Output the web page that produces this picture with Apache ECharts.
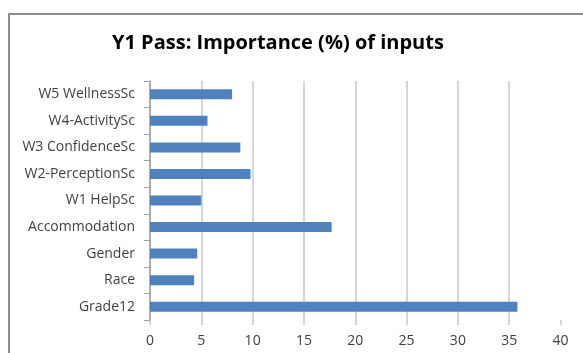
<!DOCTYPE html>
<html>
<head>
<meta charset="utf-8">
<script src="https://cdn.jsdelivr.net/npm/echarts@6/dist/echarts.min.js"></script>
<style>html,body{margin:0;padding:0;background:#fff}#c{width:583px;height:353px}</style>
</head>
<body>
<div id="c"></div>
<script>
const categories = ["W5 WellnessSc", "W4-ActivitySc", "W3 ConfidenceSc", "W2-PerceptionSc", "W1 HelpSc", "Accommodation", "Gender", "Race", "Grade12"];
const importance = [8.0, 5.6, 8.8, 9.8, 5.0, 17.7, 4.6, 4.3, 35.8];
const xTicks = [0, 5, 10, 15, 20, 25, 30, 35, 40];
const titleText = "Y1 Pass: Importance (%) of inputs";

const chart = echarts.init(document.getElementById('c'), null, {renderer: 'canvas'});
chart.setOption({
  animation: false,
  backgroundColor: '#ffffff',
  title: {
    text: titleText,
    left: 107, top: 28,
    textStyle: {fontFamily: 'Open Sans', fontWeight: 'bold', fontSize: 20, color: '#000'}
  },
  graphic: [{
    type: 'rect', shape: {x: 9, y: 14, width: 620, height: 400},
    style: {fill: null, stroke: '#8c8c8c', lineWidth: 2}, silent: true
  }],
  grid: {left: 150, right: 22.5, top: 81, bottom: 33, containLabel: false},
  xAxis: {
    type: 'value', min: xTicks[0], max: xTicks[xTicks.length - 1], interval: 5,
    axisLine: {show: false},
    axisTick: {show: true, length: 5, lineStyle: {color: '#c8c8c8', width: 1.5}},
    axisLabel: {margin: 14, fontFamily: 'Open Sans', fontSize: 14, color: '#404040'},
    splitLine: {show: true, showMaxLine: false, lineStyle: {color: '#c8c8c8', width: 1.5}}
  },
  yAxis: {
    type: 'category', data: categories, inverse: true,
    axisLine: {show: true, lineStyle: {color: '#a0a0a0', width: 1.5}},
    axisTick: {show: true, length: 6, lineStyle: {color: '#a0a0a0'}},
    axisLabel: {margin: 15, fontFamily: 'Open Sans', fontSize: 14, color: '#404040'}
  },
  series: [{
    type: 'bar', data: importance, barWidth: 10,
    itemStyle: {color: '#4f81bd'}
  }]
});
</script>
</body>
</html>
